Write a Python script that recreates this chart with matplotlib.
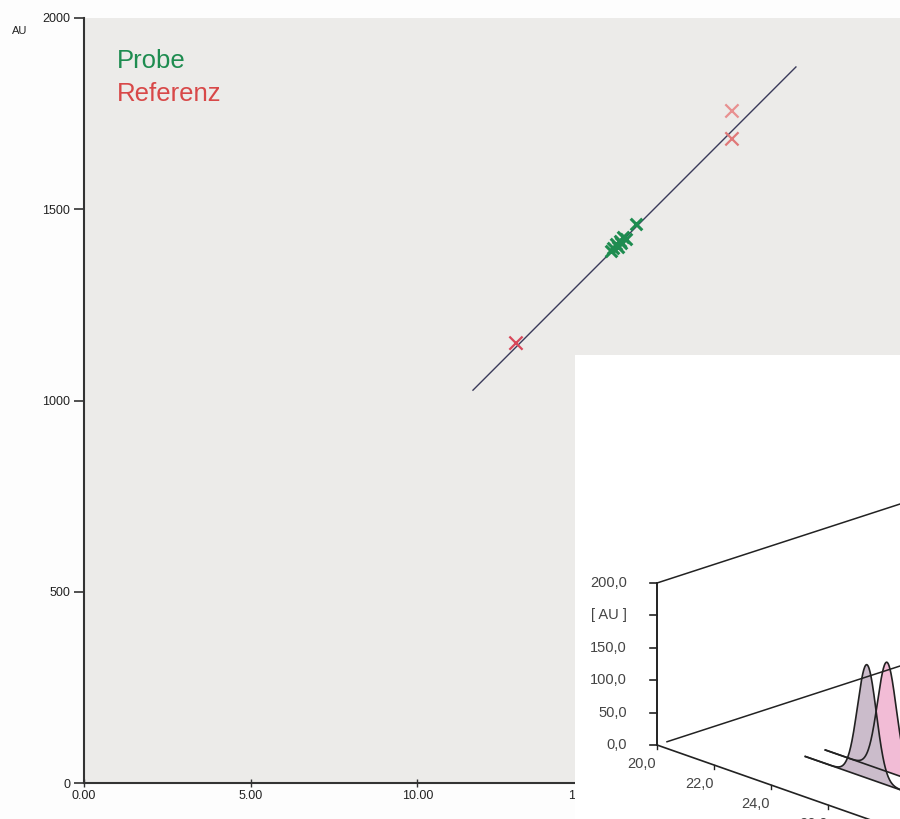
import numpy as np
import matplotlib
matplotlib.use("Agg")
import matplotlib.pyplot as plt

plt.rcParams['font.family'] = ['Liberation Sans', 'DejaVu Sans']

# ---------------- main chart data ----------------
x_ticks = [0, 5, 10, 15, 20]
x_tick_labels = ["0.00", "5.00", "10.00", "15.00", "20.00"]
y_ticks = [0, 500, 1000, 1500, 2000]
y_tick_labels = ["0", "500", "1000", "1500", "2000"]

fit_x = [11.67, 21.36]
fit_y = [1027, 1872]

ref_x = [12.96, 19.44, 19.44]
ref_y = [1150, 1757, 1684]
ref_colors = ["#d8485a", "#e89090", "#e07878"]

probe_x = [15.80, 15.88, 15.95, 16.02, 16.08, 16.12, 16.18, 16.25, 16.55]
probe_y = [1392, 1398, 1410, 1402, 1418, 1412, 1428, 1422, 1462]

# ---------------- inset (3D chromatogram) data ----------------
inset_t_ticks = [20, 22, 24, 26]
inset_t_labels = ["20,0", "22,0", "24,0", "26,0"]
inset_z_labels = ["0,0", "50,0", "100,0", "150,0", "[ AU ]", "200,0"]
inset_z_max = 200
trace_depth = [4, 3]
trace_peak_t = [25.26, 25.26]
trace_peak_h = [135, 140]
trace_sigma = [0.33, 0.33]
trace_color = ["#f2bcd6", "#cbbccb"]
trace_t_start = 23.1

W, H = 900, 819
fig = plt.figure(figsize=(9, 8.19), dpi=100, facecolor="#fdfdfd")

# main axes
AX_L, AX_B, AX_T = 84, 783, 18
ax = fig.add_axes([AX_L / W, (H - AX_B) / H, (W - AX_L) / W, (AX_B - AX_T) / H])
ax.set_facecolor("#ecebe9")
ax.set_xlim(0, (W - AX_L) / 33.33)
ax.set_ylim(0, 2000)
for s in ["top", "right"]:
    ax.spines[s].set_visible(False)
for s in ["left", "bottom"]:
    ax.spines[s].set_color("#333333")
    ax.spines[s].set_linewidth(1.5)
ax.set_xticks(x_ticks)
ax.set_xticklabels(x_tick_labels)
ax.set_yticks(y_ticks)
ax.set_yticklabels(y_tick_labels)
ax.tick_params(axis="y", direction="out", length=7, width=1.2, colors="#333333",
               labelsize=9, labelcolor="#222222", pad=3)
ax.tick_params(axis="x", direction="inout", length=6, width=1, colors="#333333",
               labelsize=9, labelcolor="#222222", pad=2)

ax.plot(fit_x, fit_y, color="#3a3a5a", lw=1.0, zorder=2)
ax.scatter(ref_x, ref_y, marker="x", s=90, c=ref_colors, linewidths=1.6, zorder=3)
ax.scatter(probe_x, probe_y, marker="x", s=70, c="#1e8c50", linewidths=2.2, zorder=4)

aw, ah = W - AX_L, AX_B - AX_T
ax.text((117 - AX_L) / aw, 1 - (68 - AX_T) / ah, "Probe", transform=ax.transAxes,
        fontsize=18.5, color="#1e8c50", va="baseline", ha="left")
ax.text((117 - AX_L) / aw, 1 - (101 - AX_T) / ah, "Referenz", transform=ax.transAxes,
        fontsize=18.5, color="#d84848", va="baseline", ha="left")
fig.text(12 / W, 1 - 31 / H, "AU", fontsize=8, color="#222222", va="center", ha="left")

# inset axes using pixel-like coordinates
x0, y0 = 575, 355
ax2 = fig.add_axes([x0 / W, 0, (W - x0) / W, (H - y0) / H], zorder=5)
ax2.set_xlim(x0, W)
ax2.set_ylim(H, y0)
ax2.set_facecolor("white")
for s in ax2.spines.values():
    s.set_visible(False)
ax2.set_xticks([])
ax2.set_yticks([])

O = (657.0, 745.0)
TX, TY = 28.5, 10.0
DX, DY = 20.0, -6.5
ZK = 162.0 / inset_z_max


def proj(t, z, d):
    t = np.asarray(t, float)
    z = np.asarray(z, float)
    X = O[0] + TX * (t - 20) + DX * d
    Y = O[1] + TY * (t - 20) + DY * d - ZK * z
    return X, Y


lc = "#222222"
# vertical intensity axis
X, Y = proj([20, 20], [0, inset_z_max], 0)
ax2.plot(X, Y, color=lc, lw=1.4)
zpos = np.linspace(0, inset_z_max, len(inset_z_labels))
for zp, lab in zip(zpos, inset_z_labels):
    tx, ty = proj(20, zp, 0)
    ax2.plot([tx - 7, tx], [ty, ty], color=lc, lw=1.2)
    ax2.text(tx - 30, ty, lab, fontsize=10.5, color="#444444", ha="right", va="center")

# front time axis
X, Y = proj([20, 32], [0, 0], 0)
ax2.plot(X, Y, color=lc, lw=1.2)
for tt, lab in zip(inset_t_ticks, inset_t_labels):
    tx, ty = proj(tt, 0, 0)
    ax2.plot([tx, tx], [ty, ty + 4], color=lc, lw=1.0)
    ax2.text(tx - 15, ty + 19, lab, fontsize=10.5, color="#444444", ha="center", va="center")

# back depth lines
X, Y = proj([20, 20], [inset_z_max, inset_z_max], 0)
Xe, Ye = proj(20, inset_z_max, 14)
ax2.plot([X[0], Xe], [Y[0], Ye], color=lc, lw=1.1)
X, Y = proj(20, 0, 0.5)
Xe, Ye = proj(20, 0, 14)
ax2.plot([X, Xe], [Y, Ye], color=lc, lw=1.1)

# traces (back to front)
for d, pt, ph, sg, col in zip(trace_depth, trace_peak_t, trace_peak_h, trace_sigma, trace_color):
    t = np.linspace(trace_t_start, 30, 600)
    z = ph * np.exp(-0.5 * ((t - pt) / sg) ** 2)
    Xc, Yc = proj(t, z, d)
    Xb, Yb = proj(t, np.zeros_like(t), d)
    ax2.fill(np.concatenate([Xc, Xb[::-1]]), np.concatenate([Yc, Yb[::-1]]),
             color=col, lw=0)
    ax2.plot(Xc, Yc, color=lc, lw=1.2)
    ax2.plot(Xb, Yb, color=lc, lw=1.2)

fig.savefig("out.png", dpi=100, facecolor=fig.get_facecolor())
